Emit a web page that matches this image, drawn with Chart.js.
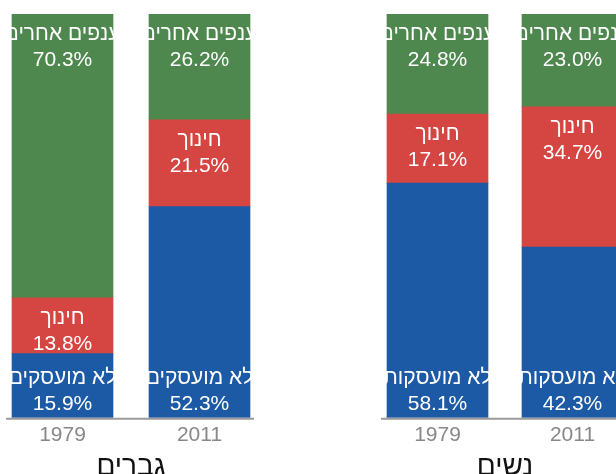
<!DOCTYPE html>
<html>
<head>
<meta charset="utf-8">
<script src="https://cdn.jsdelivr.net/npm/chart.js@4/dist/chart.umd.min.js"></script>
<style>
  html, body { margin: 0; padding: 0; background: #fff; }
  body { width: 616px; height: 474px; overflow: hidden; position: relative; }
  canvas { position: absolute; top: 0; }
  #men { left: -6px; }
  #women { left: 370px; }
</style>
</head>
<body>
<canvas id="men" width="274" height="482"></canvas>
<canvas id="women" width="270" height="482"></canvas>
<script>
var years = ['1979', '2011'];

var menUnemployed = [15.9, 52.3];
var menEducation = [13.8, 21.5];
var menOther = [70.3, 26.2];

var womenUnemployed = [58.1, 42.3];
var womenEducation = [17.1, 34.7];
var womenOther = [24.8, 23.0];

var menNames = ['לא מועסקים', 'חינוך', 'ענפים אחרים'];
var womenNames = ['לא מועסקות', 'חינוך', 'ענפים אחרים'];

var BLUE = '#1d5aa5', RED = '#d54541', GREEN = '#4e884e';
var FONT = '"Liberation Sans", Arial, sans-serif';

// white name + percent inside every segment
var segLabels = {
    id: 'segLabels',
    afterDatasetsDraw: function(chart) {
        var ctx = chart.ctx;
        ctx.save();
        ctx.fillStyle = '#fff';
        ctx.textAlign = 'center';
        ctx.textBaseline = 'middle';
        ctx.font = '21px ' + FONT;
        chart.data.datasets.forEach(function(ds, i) {
            var meta = chart.getDatasetMeta(i);
            meta.data.forEach(function(bar, j) {
                var top = Math.min(bar.y, bar.base);
                var bottom = Math.max(bar.y, bar.base);
                var y1, y2;
                if (ds.anchor == 'bottom') {
                    y1 = bottom - 40; y2 = bottom - 14;
                } else {
                    y1 = top + 20; y2 = top + 46;
                }
                ctx.fillText(ds.label, bar.x, y1);
                ctx.fillText(ds.data[j].toFixed(1) + '%', bar.x, y2);
            });
        });
        ctx.restore();
    }
};

// short grey base line under the bars
var baseLine = {
    id: 'baseLine',
    afterDatasetsDraw: function(chart) {
        var bars = chart.getDatasetMeta(0).data;
        var first = bars[0], last = bars[bars.length - 1];
        var ctx = chart.ctx;
        ctx.save();
        ctx.strokeStyle = '#9a9a9a';
        ctx.lineWidth = 2;
        ctx.beginPath();
        ctx.moveTo(first.x - first.width / 2 - 6, chart.chartArea.bottom + 1);
        ctx.lineTo(last.x + last.width / 2 + 4, chart.chartArea.bottom + 1);
        ctx.stroke();
        ctx.restore();
    }
};

function makeChart(id, title, names, unemployed, education, other) {
    var ctx = document.getElementById(id).getContext('2d');
    return new Chart(ctx, {
        type: 'bar',
        data: {
            labels: years,
            datasets: [
                { label: names[0], data: unemployed, backgroundColor: BLUE, anchor: 'bottom' },
                { label: names[1], data: education, backgroundColor: RED, anchor: 'top' },
                { label: names[2], data: other, backgroundColor: GREEN, anchor: 'top' }
            ]
        },
        options: {
            responsive: false,
            animation: false,
            events: [],
            layout: { padding: { top: 14, left: 0, right: 0, bottom: 0 } },
            datasets: { bar: { barThickness: 101, borderWidth: 0 } },
            scales: {
                x: {
                    stacked: true,
                    grid: { display: false, drawTicks: false },
                    border: { display: false },
                    ticks: { color: '#888', font: { size: 21, family: FONT }, padding: 5 }
                },
                y: { stacked: true, display: false, min: 0, max: 100 }
            },
            plugins: {
                legend: { display: false },
                tooltip: { enabled: false },
                title: {
                    display: true,
                    position: 'bottom',
                    text: title,
                    color: '#111',
                    font: { size: 28, weight: 'normal', family: FONT, lineHeight: 1 },
                    padding: { top: 0, bottom: 1 }
                }
            }
        },
        plugins: [segLabels, baseLine]
    });
}

makeChart('men', 'גברים', menNames, menUnemployed, menEducation, menOther);
makeChart('women', 'נשים', womenNames, womenUnemployed, womenEducation, womenOther);
</script>
</body>
</html>
